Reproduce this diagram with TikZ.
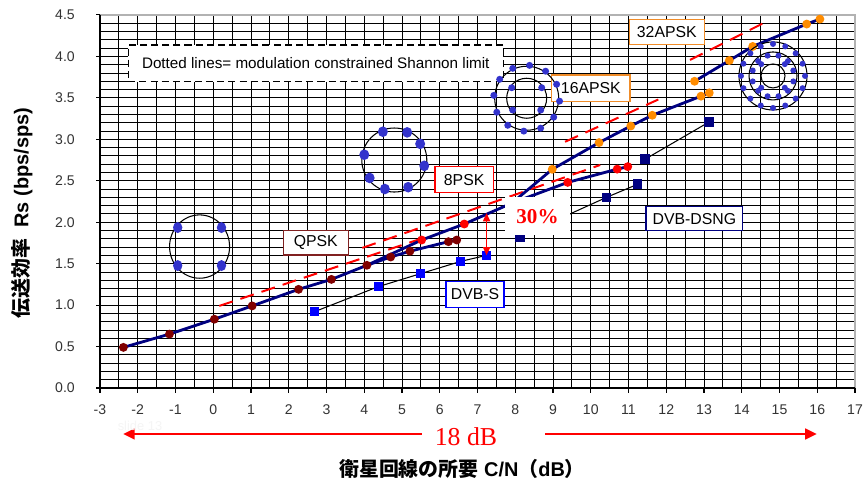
\documentclass[tikz,border=0pt]{standalone}
\usepackage{fontspec}
\setmainfont{Liberation Sans}
\newfontfamily\romanfont{Liberation Serif}
\newfontfamily\cjk{Noto Sans CJK JP}
\usetikzlibrary{arrows.meta}

\definecolor{curvenavy}{RGB}{0,0,128}
\definecolor{qpskred}{RGB}{128,0,0}
\definecolor{apskorange}{RGB}{255,140,0}
\definecolor{dvbsblue}{RGB}{0,0,255}
\definecolor{constblue}{RGB}{51,51,204}
\definecolor{qpskframe}{RGB}{128,32,32}
\definecolor{apskframe}{RGB}{240,140,40}

\begin{document}
\begin{tikzpicture}[x=1.1325cm, y=2.487cm,
    gridline/.style={black, line width=0.7pt},
    axisline/.style={black, line width=0.9pt},
    ticklabel/.style={text=black!80, inner sep=0pt, font=\fontsize{12}{14}\selectfont},
    envline/.style={curvenavy, line width=2.4pt, line cap=round, line join=round},
    oldline/.style={black, line width=0.9pt},
    limitline/.style={red, line width=1.7pt, dash pattern=on 12pt off 7pt},
    pdot/.style={circle, inner sep=0pt, minimum size=7.6pt, fill=#1},
    sqmark/.style={rectangle, inner sep=0pt, minimum size=7.6pt, fill=#1},
    modbox/.style={draw=#1, line width=1.2pt, fill=white, inner sep=0pt, font=\fontsize{13.5}{15}\selectfont},
    ring/.style={black, line width=0.9pt},
    spanarrow/.style={red, line width=2.4pt, -{Triangle[length=10pt, width=9pt]}},
  ]
    \useasboundingbox[fill=white] (-5.649,-1.1821) rectangle (17.2119,4.6803);

    % Grid
    \foreach \x in {-2.5,-2,...,16.5}
        \draw[gridline] (\x,0) -- (\x,4.5);
    \foreach \k in {1,...,44}
        \draw[gridline] (-3,\k/10) -- (17,\k/10);
    \draw[gray!60, line width=1pt] (-3,4.5) -- (17,4.5) -- (17,0);
    \draw[axisline] (-3,4.5) -- (-3,0) -- (17,0);

    % Axis ticks and numbers
    \foreach \v [count=\i] in {0.0,0.5,1.0,1.5,2.0,2.5,3.0,3.5,4.0,4.5} {
        \draw[axisline] (-3,\v) -- (-3.106,\v);
        \node[ticklabel, anchor=east] (yt\i) at (-3.662,\v) {\v};
    }
    \foreach \n [count=\i] in {-3,...,17} {
        \draw[axisline] (\n,0) -- (\n,-0.066);
        \node[ticklabel] (xt\i) at (\n,-0.265) {\n};
    }

    % Measured points
    \foreach \px/\py [count=\i] in {-2.38/0.49,-1.16/0.65,0.03/0.83,1.03/0.99,2.26/1.19,3.13/1.31,
        4.07/1.48,4.70/1.58,5.21/1.65,6.23/1.765,6.45/1.785}
        \coordinate (q\i) at (\px,\py);
    \foreach \px/\py [count=\i] in {5.52/1.785,6.65/1.978,7.91/2.23,9.39/2.48,10.70/2.64,10.98/2.67}
        \coordinate (p\i) at (\px,\py);
    \foreach \px/\py [count=\i] in {8.98/2.638,10.22/2.96,11.06/3.16,11.63/3.29,12.92/3.52,13.14/3.56}
        \coordinate (a\i) at (\px,\py);
    \foreach \px/\py [count=\i] in {12.75/3.70,13.67/3.95,14.29/4.12,15.72/4.39,16.07/4.45}
        \coordinate (b\i) at (\px,\py);
    \foreach \px/\py [count=\i] in {2.68/0.92,4.37/1.222,5.49/1.379,6.56/1.528,7.24/1.60}
        \coordinate (s\i) at (\px,\py);
    \foreach \px/\py [count=\i] in {8.12/1.825,10.42/2.30,11.24/2.457,11.44/2.76,13.14/3.21}
        \coordinate (d\i) at (\px,\py);

    % Shannon limits (dashed)
    \coordinate (lq1) at (0.16,0.99);  \coordinate (lq2) at (5.50,1.80);
    \coordinate (lp1) at (3.95,1.69);  \coordinate (lp2) at (10.25,2.69);
    \coordinate (la1) at (9.32,2.97);  \coordinate (la2) at (11.79,3.48);
    \coordinate (lb1) at (12.63,3.957); \coordinate (lb2) at (14.57,4.40);
    \draw[limitline] (lq1) -- (lq2);
    \draw[limitline] (lp1) -- (lp2);
    \draw[limitline] (la1) -- (la2);
    \draw[limitline] (lb1) -- (lb2);

    % DVB-S and DVB-DSNG
    \draw[oldline] (s1) -- (s2) -- (s3) -- (s4) -- (s5);
    \draw[oldline] (d1) -- (d2) -- (d3);
    \draw[oldline] (d4) -- (d5);
    \foreach \i in {1,...,5} \node[sqmark=dvbsblue] (sq\i) at (s\i) {};
    \foreach \i in {1,...,5} \node[sqmark=curvenavy, minimum size=8.2pt] (dq\i) at (d\i) {};

    % DVB-S2 curves
    \draw[envline] (q1) -- (q2) -- (q3) -- (q4) -- (q5) -- (q6) -- (q7) -- (p1) -- (p2) -- (p3)
        -- (a1) -- (a2) -- (a3) -- (a4) -- (a5) -- (a6);
    \draw[envline] (q7) -- (q8) -- (q9) -- (q10) -- (q11);
    \draw[envline] (p3) -- (p4) -- (p5) -- (p6);
    \draw[envline] (b1) -- (b2) -- (b3) -- (b4) -- (b5);
    \foreach \i in {1,...,11} \node[pdot=qpskred] (qd\i) at (q\i) {};
    \foreach \i in {1,...,6} \node[pdot=red] (pd\i) at (p\i) {};
    \foreach \i in {1,...,6} \node[pdot=apskorange] (ad\i) at (a\i) {};
    \foreach \i in {1,...,5} \node[pdot=apskorange] (bd\i) at (b\i) {};

    % Gap to DVB-S
    \node[fill=white, minimum width=1.95cm, minimum height=1.14cm, text=red,
        font=\romanfont\bfseries\fontsize{18}{20}\selectfont] (gaplab) at (8.59,2.07) {30\%};
    \coordinate (gaptop) at (7.24,2.11);
    \draw[red, line width=1.4pt, {Triangle[length=7pt, width=6pt]}-{Triangle[length=7pt, width=6pt]}]
        (s5) -- (gaptop);

    % Labels
    \node[draw=black, line width=1.1pt, dash pattern=on 6pt off 3.5pt, fill=white,
        minimum width=11.25cm, minimum height=1.1cm, font=\fontsize{13}{15}\selectfont]
        (note) at (2.716,3.916) {Dotted lines= modulation constrained Shannon limit};
    \node[modbox=qpskframe, minimum width=1.95cm, minimum height=0.73cm] (qpsklab) at (2.717,1.751) {QPSK};
    \node[modbox=red, minimum width=1.75cm, minimum height=0.78cm] (psklab) at (6.646,2.513) {8PSK};
    \node[modbox=apskframe, minimum width=2.35cm, minimum height=0.80cm] (apsk16lab) at (10.003,3.615) {16APSK};
    \node[modbox=apskframe, minimum width=2.25cm, minimum height=0.75cm] (apsk32lab) at (12.015,4.297) {32APSK};
    \node[modbox=dvbsblue, minimum width=1.74cm, minimum height=0.77cm] (dvbslab) at (6.934,1.128) {DVB-S};
    \node[modbox=curvenavy, minimum width=2.9cm, minimum height=0.72cm] (dsnglab) at (12.745,2.042) {DVB-DSNG};

    % Constellations
    \begin{scope}[shift={(-0.362,1.706)}, x=1cm, y=1cm]
        \draw[ring] (0,0) circle [x radius=0.9, y radius=0.95];
        \foreach \a in {41,139,221,319}
            \fill[constblue] (\a:0.87) circle [x radius=0.14, y radius=0.165];
    \end{scope}
    \begin{scope}[shift={(4.796,2.750)}, x=1cm, y=1cm]
        \draw[ring] (0,0) circle [x radius=0.975, y radius=0.96];
        \foreach \a in {112,65,32,-11,-63,-108,-144,170}
            \fill[constblue] (\a:0.915) circle [x radius=0.15, y radius=0.16];
    \end{scope}
    \begin{scope}[shift={(8.303,3.495)}, x=1cm, y=1cm]
        \draw[ring] (0,0) circle (0.96);
        \draw[ring] (0,0) circle (0.6);
        \foreach \k in {0,...,11}
            \fill[constblue] (85-30*\k:0.99) circle (0.105);
        \foreach \a in {35,145,220,320}
            \fill[constblue] (\a:0.55) circle (0.105);
    \end{scope}
    \begin{scope}[shift={(14.828,3.764)}, x=1cm, y=1cm]
        \draw[ring] (0,0) circle (0.36);
        \draw[ring] (0,0) circle (0.72);
        \draw[ring] (0,0) circle (1.02);
        \foreach \k in {0,...,15}
            \fill[constblue] (22.5*\k:0.96) circle (0.09);
        \foreach \k in {0,...,11}
            \fill[constblue] (15+30*\k:0.63) circle (0.09);
        \foreach \a in {45,135,225,315}
            \fill[constblue] (\a:0.5) circle (0.09);
    \end{scope}

    % Required C/N span
    \coordinate (spanL) at (5.52,-0.555);
    \coordinate (spanR) at (8.79,-0.555);
    \coordinate (tipL) at (-2.39,-0.555);
    \coordinate (tipR) at (15.99,-0.555);
    \draw[spanarrow] (spanL) -- (tipL);
    \draw[spanarrow] (spanR) -- (tipR);
    \node[text=red, font=\romanfont\fontsize{22}{24}\selectfont] (spanlab) at (6.695,-0.591) {18 dB};
    \node[text=black!4, font=\fontsize{11}{12}\selectfont] (slide) at (-1.94,-0.458) {slide 13};

    % Axis titles
    \node[rotate=90, font=\bfseries\fontsize{17}{19}\selectfont] (ytitle) at (-5.066,2.111)
        {{\cjk\bfseries 伝送効率}\ \ Rs (bps/sps)};
    \node[font=\bfseries\fontsize{17}{19}\selectfont] (xtitle) at (6.589,-0.977)
        {{\cjk\bfseries 衛星回線の所要} C/N{\cjk\bfseries （}dB{\cjk\bfseries ）}};
\end{tikzpicture}
\end{document}
